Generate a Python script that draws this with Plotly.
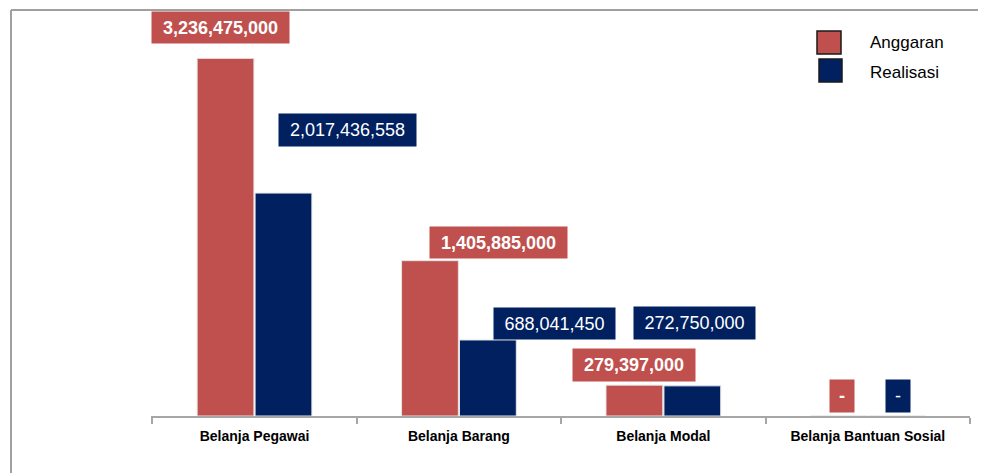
import plotly.graph_objects as go

categories = ["Belanja Pegawai", "Belanja Barang", "Belanja Modal", "Belanja Bantuan Sosial"]
anggaran = [3236475000, 1405885000, 279397000, 0]
realisasi = [2017436558, 688041450, 272750000, 0]
series_names = ["Anggaran", "Realisasi"]

RED = "#C0504D"
NAVY = "#002060"
FONT = "Liberation Sans"

OFF = 8  # page body margin
W, H = 986 - OFF, 473 - OFF
# plot area in reference pixel coordinates
PL, PR, PT, PB = 151, 970, 10, 416
ML, MT = PL - OFF, PT - OFF
MR, MB = W - (PR - OFF), H - (PB - OFF)
PW, PH = PR - PL, PB - PT


def px(x):
    return (x - PL) / PW


def py(y):
    return (PB - y) / PH


def fmt(v):
    return "-" if v == 0 else f"{v:,}"


fig = go.Figure()
fig.add_trace(go.Bar(x=categories, y=anggaran, name=series_names[0], marker=dict(color=RED, line=dict(color="#E6E6E6", width=1)), showlegend=False))
fig.add_trace(go.Bar(x=categories, y=realisasi, name=series_names[1], marker=dict(color=NAVY, line=dict(color="#E6E6E6", width=1)), showlegend=False))

# label placement styles (offsets in px from category center / bar top, box size)
a_shift = [(-34, 31, 137, 31), (40, 18, 137, 31), (-29, 20, 122, 32), (-25.6, 20, 24, 32)]
r_shift = [(93, 63, 137, 32), (96, 16.5, 121, 31), (31.6, 63, 121, 32), (30.4, 20, 24, 32)]

annotations = []
for i, c in enumerate(categories):
    for vals, shifts, col, bold in ((anggaran, a_shift, RED, True), (realisasi, r_shift, NAVY, False)):
        xs, ys, w, h = shifts[i]
        t = fmt(vals[i])
        annotations.append(dict(
            x=c, y=vals[i], xref="x", yref="y", text=("<b>%s</b>" % t) if bold else t,
            showarrow=False, xshift=xs, yshift=ys, width=w, height=h,
            bgcolor=col, font=dict(family=FONT, size=18, color="white"),
            xanchor="center", yanchor="middle", align="center", valign="middle", borderpad=0,
        ))

# manual legend
shapes = []
leg = [(RED, 817, 31, 841, 54, series_names[0], 907, 43), (NAVY, 819, 59, 842, 82, series_names[1], 904, 72)]
for col, x0, y0, x1, y1, name, tx, ty in leg:
    shapes.append(dict(type="rect", xref="paper", yref="paper", x0=px(x0), x1=px(x1), y0=py(y1), y1=py(y0),
                       fillcolor=col, line=dict(color="#1A1A1A", width=1.5)))
    annotations.append(dict(x=px(tx), y=py(ty), xref="paper", yref="paper", text=name, showarrow=False,
                            xanchor="center", yanchor="middle", font=dict(family=FONT, size=17, color="#000000")))

# outer frame (top & left edges visible)
shapes.append(dict(type="line", xref="paper", yref="paper", x0=px(11), x1=px(1000), y0=py(10), y1=py(10),
                   line=dict(color="#A0A0A0", width=2)))
shapes.append(dict(type="line", xref="paper", yref="paper", x0=px(11), x1=px(11), y0=py(10), y1=py(490),
                   line=dict(color="#A0A0A0", width=2)))

fig.update_layout(
    width=W, height=H, margin=dict(l=ML, r=MR, t=MT, b=MB),
    plot_bgcolor="white", paper_bgcolor="white",
    barmode="group", bargap=0.433, bargroupgap=0.02,
    annotations=annotations, shapes=shapes,
    font=dict(family=FONT),
)
fig.update_xaxes(type="category", showline=True, linecolor="#A6A6A6", linewidth=1.5,
                 ticks="outside", tickson="boundaries", ticklen=6, tickcolor="#A6A6A6", tickwidth=1.5,
                 tickfont=dict(family=FONT, size=14, color="#000000"), tickprefix="<b>", ticksuffix="</b>",
                 ticklabelstandoff=6, showgrid=False, zeroline=False)
fig.update_yaxes(range=[0, PH / 110.5 * 1e9], visible=False, showgrid=False, zeroline=False)

fig.write_html("out.html")
